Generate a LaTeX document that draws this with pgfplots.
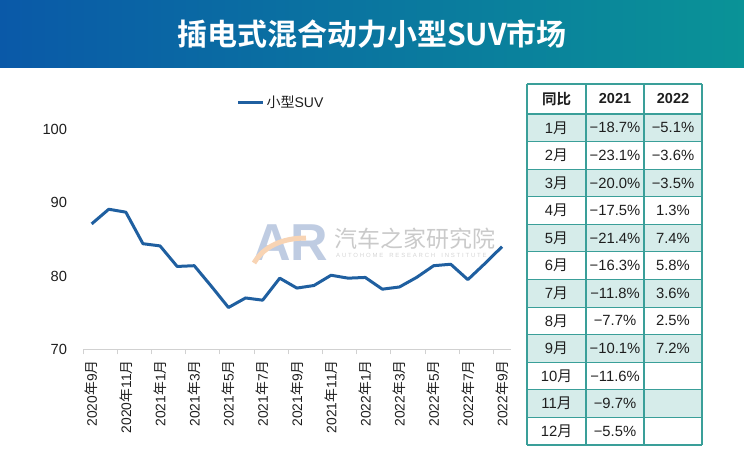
\documentclass[border=0pt]{standalone}
\usepackage{fontspec}
\setmainfont{Liberation Sans}
\newfontfamily\cjk{Noto Sans CJK SC}[BoldFont={Noto Sans CJK SC Bold}]
\newfontfamily\spaced{Liberation Sans}[LetterSpace=30]
\usepackage{pgfplots}
\pgfplotsset{compat=1.18}

\definecolor{linec}{HTML}{1F5FA0}
\definecolor{barL}{HTML}{0A59A8}
\definecolor{barR}{HTML}{0A9397}
\definecolor{tbl}{HTML}{3A9F99}
\definecolor{tblfill}{HTML}{D6ECEA}
\definecolor{txt}{HTML}{1E1E1E}
\definecolor{wmblue}{HTML}{BFCCE2}
\definecolor{wmorange}{HTML}{F8D4B4}
\definecolor{wmgray}{HTML}{CACACA}

\newcommand{\ny}[2]{#1{\cjk 年}#2{\cjk 月}}

% monthly series, 2020-09 .. 2022-09
\pgfplotstableread{
idx val
0  87.1
1  89.1
2  88.7
3  84.4
4  84.1
5  81.3
6  81.4
7  78.6
8  75.7
9  77.0
10 76.7
11 79.7
12 78.35
13 78.7
14 80.1
15 79.7
16 79.8
17 78.2
18 78.5
19 79.8
20 81.4
21 81.6
22 79.5
23 81.7
24 84.0
}\suv

\begin{document}
\begin{tikzpicture}
\path[use as bounding box] (0pt,0pt) rectangle (744pt,-452pt);

\begin{scope}[x=1pt,y=-1pt]
  % title bar
  \shade[left color=barL,right color=barR] (0,0) rectangle (744,67.5);
  \node[text=white,font=\cjk\bfseries\fontsize{30}{30}\selectfont] at (372,34) {插电式混合动力小型SUV市场};

  % watermark
  \node[text=wmblue,font=\bfseries\fontsize{52}{52}\selectfont,inner sep=0pt] at (291,243) {AR};
  \draw[wmorange,line width=5pt] (254,263) .. controls (264,246) and (283,238) .. (306,238);
  \node[text=wmgray,font=\cjk\fontsize{23}{23}\selectfont,anchor=west,inner sep=0pt] at (334,239) {汽车之家研究院};
  \node[text=wmgray!80,font=\spaced\fontsize{6}{6}\selectfont,anchor=west,inner sep=0pt] at (336,255) {AUTOHOME\hspace{6pt}RESEARCH\hspace{6pt}INSTITUTE};

  % table
  \foreach \r in {1,3,5,7,9,11}
    \fill[tblfill] (527,{114+(\r-1)*27.58}) rectangle (702,{114+\r*27.58});
  \foreach \xx in {527,586,644,702}
    \draw[tbl,line width=1.3pt] (\xx,84) -- (\xx,445);
  \draw[tbl,line width=1.3pt] (527,84) -- (702,84);
  \foreach \r in {0,...,12}
    \draw[tbl,line width=1.1pt] (527,{114+\r*27.58}) -- (702,{114+\r*27.58});

  \begin{scope}[every node/.style={text=txt,font=\fontsize{14.8}{14.8}\selectfont,inner sep=0pt}]
    \node[font=\cjk\bfseries\fontsize{14.5}{14.5}\selectfont] at (556.5,99) {同比};
    \node[font=\bfseries\fontsize{14.5}{14.5}\selectfont] at (615,99) {2021};
    \node[font=\bfseries\fontsize{14.5}{14.5}\selectfont] at (673,99) {2022};
    \foreach \m/\a/\b [count=\r] in {1/−18.7\%/−5.1\%, 2/−23.1\%/−3.6\%, 3/−20.0\%/−3.5\%,
        4/−17.5\%/1.3\%, 5/−21.4\%/7.4\%, 6/−16.3\%/5.8\%, 7/−11.8\%/3.6\%,
        8/−7.7\%/2.5\%, 9/−10.1\%/7.2\%, 10/−11.6\%/, 11/−9.7\%/, 12/−5.5\%/} {
      \node at (556.5,{114+(\r-0.5)*27.58}) {\m{\cjk 月}};
      \node at (615,{114+(\r-0.5)*27.58}) {\a};
      \node at (673,{114+(\r-0.5)*27.58}) {\b};
    }
  \end{scope}
\end{scope}

\begin{axis}[
  at={(83.1pt,-349.3pt)}, anchor=south west,
  scale only axis, width=427.5pt, height=220pt,
  xmin=-0.5, xmax=24.5, ymin=70, ymax=100,
  axis x line*=bottom, axis y line*=left,
  y axis line style={draw=none},
  x axis line style={draw=black!18,line width=1pt},
  xtick={0,2,...,24},
  xticklabels={\ny{2020}{9},\ny{2020}{11},\ny{2021}{1},\ny{2021}{3},\ny{2021}{5},\ny{2021}{7},
    \ny{2021}{9},\ny{2021}{11},\ny{2022}{1},\ny{2022}{3},\ny{2022}{5},\ny{2022}{7},\ny{2022}{9}},
  minor xtick={-0.5,1.5,...,23.5},
  major tick length=0pt, minor tick length=5pt,
  tick align=outside,
  minor tick style={draw=black!18,line width=1pt},
  ytick={70,80,90,100}, yticklabels={70,80,90,100},
  ytick style={draw=none},
  xticklabel style={rotate=90,anchor=east,inner sep=0pt,text=txt,font=\fontsize{13.8}{13.8}\selectfont},
  xticklabel shift=11pt,
  yticklabel style={anchor=east,inner sep=0pt,text=txt,font=\fontsize{14.7}{14.7}\selectfont},
  yticklabel shift=15.8pt,
  legend style={at={(0.463,1.121)},anchor=center,draw=none,fill=none,
    font=\fontsize{14}{14}\selectfont,text=txt},
  legend image code/.code={\draw[#1,line width=3pt] (0pt,0pt) -- (25pt,0pt);},
  clip=false,
]
\addplot[linec,line width=3pt,line join=round] table[x=idx,y=val] {\suv};
\addlegendentry{{\cjk 小型}SUV}
\end{axis}
\end{tikzpicture}
\end{document}
